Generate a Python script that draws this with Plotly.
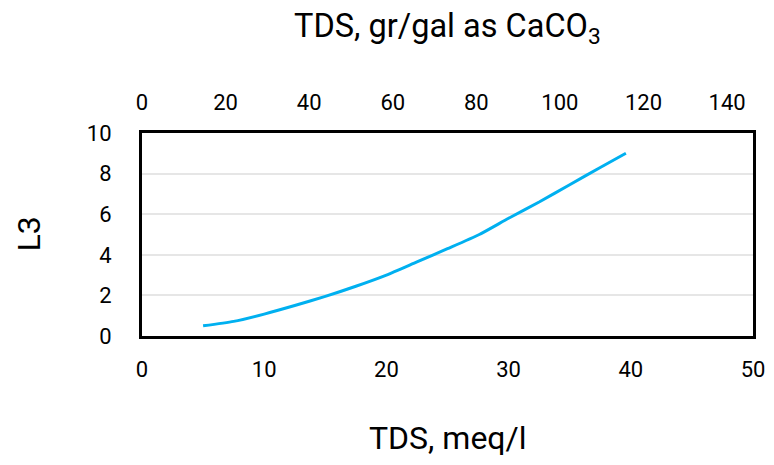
import plotly.graph_objects as go

# Data
tds_meq = [5, 7.5, 10, 12.5, 15, 17.5, 20, 22.5, 25, 27.6, 30, 32.5, 35, 37.5, 39.6]
l3 = [0.5, 0.72, 1.08, 1.5, 1.95, 2.45, 3.0, 3.65, 4.3, 5.0, 5.8, 6.6, 7.45, 8.3, 9.0]

bottom_ticks = [0, 10, 20, 30, 40, 50]
top_ticks = [0, 20, 40, 60, 80, 100, 120, 140]
y_ticks = [0, 2, 4, 6, 8, 10]

MEQ_TO_GRGAL = 50 / 17.1  # meq/l -> gr/gal as CaCO3

# page has an 8px body margin; size figure to fit inside the window
W, H = 758, 449
L, R, T, B = 134, 13, 125, 121
plot_w = W - L - R
plot_h = H - T - B

font_family = "Roboto, 'Noto Sans', sans-serif"

fig = go.Figure()
fig.add_trace(go.Scatter(
    x=tds_meq, y=l3, mode="lines",
    line=dict(color="#00B0F0", width=3, shape="spline", smoothing=0.6),
    showlegend=False, hoverinfo="skip",
))
# invisible trace on top axis (gr/gal)
fig.add_trace(go.Scatter(
    x=[v * MEQ_TO_GRGAL for v in tds_meq], y=l3, mode="lines",
    line=dict(color="rgba(0,0,0,0)", width=0), xaxis="x2",
    showlegend=False, hoverinfo="skip",
))

fig.update_layout(
    width=W, height=H,
    margin=dict(l=L, r=R, t=T, b=B, pad=0, autoexpand=False),
    paper_bgcolor="white", plot_bgcolor="white",
    font=dict(family=font_family, size=22, color="#000000"),
    xaxis=dict(
        range=[0, 50], tickvals=bottom_ticks, showgrid=False, zeroline=False,
        showline=True, linecolor="#000000", linewidth=3, mirror=True, automargin=False,
        ticks="", ticklabelstandoff=12, tickfont=dict(size=22),
    ),
    xaxis2=dict(
        range=[0, 50 * MEQ_TO_GRGAL], tickvals=top_ticks, overlaying="x", side="top",
        showgrid=False, zeroline=False, showline=False, automargin=False,
        ticks="", ticklabelstandoff=18, tickfont=dict(size=22),
    ),
    yaxis=dict(
        range=[0, 10], tickvals=y_ticks, showgrid=True, gridcolor="#E6E6E6", gridwidth=1.5,
        zeroline=False, showline=True, linecolor="#000000", linewidth=3, mirror=True,
        automargin=False, ticks="", ticklabelstandoff=23, tickfont=dict(size=22),
    ),
    annotations=[
        dict(text="TDS, meq/l", xref="paper", yref="paper", x=0.5,
             y=-(430 - (T + plot_h)) / plot_h, xanchor="center", yanchor="middle",
             showarrow=False, font=dict(size=32)),
        dict(text="TDS, gr/gal as CaCO<sub>3</sub>", xref="paper", yref="paper", x=0.5,
             y=1 + (T - 20) / plot_h, xanchor="center", yanchor="middle",
             showarrow=False, font=dict(size=32.5)),
        dict(text="L3", xref="paper", yref="paper", x=-(L - 20) / plot_w,
             y=0.5, xanchor="center", yanchor="middle", textangle=-90,
             showarrow=False, font=dict(size=32)),
    ],
)

fig.write_html("out.html")
